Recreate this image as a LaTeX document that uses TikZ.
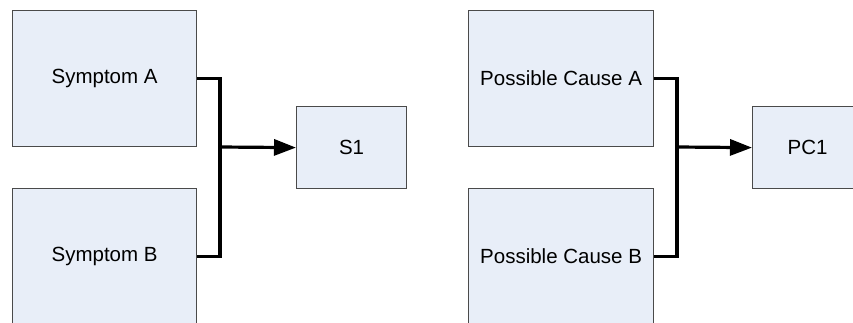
\documentclass[tikz,border=0pt]{standalone}
\usepackage{fontspec}
\setmainfont{Liberation Sans}
\usetikzlibrary{arrows.meta}
\definecolor{boxfill}{HTML}{E8EEF8}
\definecolor{boxline}{HTML}{4A4A4A}
\begin{document}
\begin{tikzpicture}[x=1pt,y=-1pt,
  box/.style={draw=boxline,line width=1.2pt,fill=boxfill,inner sep=0pt,anchor=north west,
    font=\fontsize{20.5}{23}\selectfont},
  conn/.style={line width=3.2pt,line join=miter,draw=black},
  tip/.style={-{Triangle[length=22pt,width=16pt]}}]
\useasboundingbox (0,0) rectangle (853,322);
\node[box,minimum width=184pt,minimum height=136pt] (SA) at (12,10) {Symptom A};
\node[box,minimum width=184pt,minimum height=136pt] (SB) at (12,188) {Symptom B};
\node[box,minimum width=110pt,minimum height=82pt] (S1) at (296,106) {S1};
\node[box,minimum width=185pt,minimum height=136pt] (PA) at (468,10) {Possible Cause A};
\node[box,minimum width=185pt,minimum height=136pt] (PB) at (468,188) {Possible Cause B};
\node[box,minimum width=110pt,minimum height=82pt] (PC1) at (752,106) {PC1};
\coordinate (j1) at (220,147);
\coordinate (j2) at (677,147);
\draw[conn] (SA.east) -| (j1) |- (SB.east);
\draw[conn,tip] (j1) -- (S1.west);
\draw[conn] (PA.east) -| (j2) |- (PB.east);
\draw[conn,tip] (j2) -- (PC1.west);
\end{tikzpicture}
\end{document}
